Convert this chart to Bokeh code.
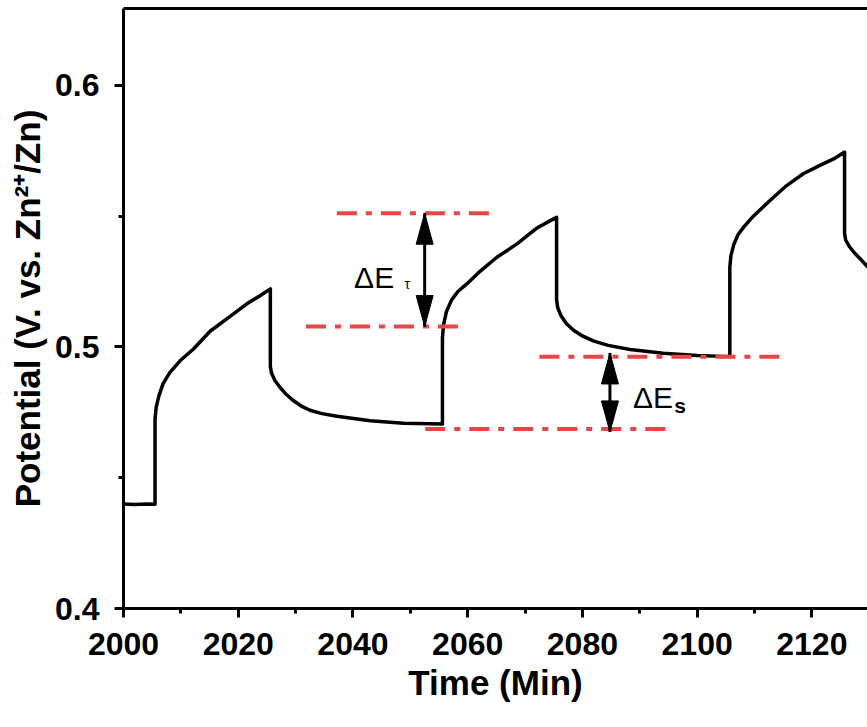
from bokeh.plotting import figure
from bokeh.models import Range1d, FixedTicker, LinearAxis, ColumnDataSource
from bokeh.core.properties import value
from bokeh.embed import file_html
from bokeh.resources import INLINE

# ---- data ----
time_min = [1999.5, 2002.0, 2004.0, 2005.5,
            2005.5, 2005.7, 2006.2, 2006.9, 2008.1, 2009.9, 2012.2, 2015.1, 2018.0, 2021.5, 2023.8, 2025.6,
            2025.6, 2025.8, 2026.4, 2027.3, 2028.4, 2029.6, 2031.0, 2032.5, 2034.6, 2037.2, 2043.0, 2048.8, 2055.6,
            2055.6, 2055.8, 2056.3, 2057.2, 2058.3, 2059.8, 2062.2, 2065.1, 2068.6, 2072.1, 2074.4, 2075.5,
            2075.5, 2075.7, 2076.3, 2077.2, 2078.4, 2080.0, 2082.0, 2084.5, 2088.3, 2094.1, 2100.0, 2105.7,
            2105.7, 2105.9, 2106.4, 2107.1, 2108.1, 2109.8, 2112.7, 2115.6, 2118.5, 2121.4, 2123.8, 2125.7,
            2125.7, 2125.9, 2126.5, 2127.4, 2128.5, 2129.8, 2131.0]
potential = [0.4400, 0.4398, 0.4400, 0.4399,
             0.4725, 0.4770, 0.4815, 0.4860, 0.4903, 0.4948, 0.4992, 0.5060, 0.5107, 0.5165, 0.5196, 0.5222,
             0.4925, 0.4900, 0.4872, 0.4845, 0.4818, 0.4795, 0.4774, 0.4758, 0.4745, 0.4735, 0.4718, 0.4708, 0.4705,
             0.5035, 0.5085, 0.5135, 0.5180, 0.5212, 0.5240, 0.5290, 0.5343, 0.5394, 0.5455, 0.5483, 0.5496,
             0.5180, 0.5150, 0.5118, 0.5090, 0.5065, 0.5042, 0.5022, 0.5006, 0.4990, 0.4976, 0.4967, 0.4963,
             0.5305, 0.5350, 0.5392, 0.5428, 0.5458, 0.5500, 0.5560, 0.5617, 0.5662, 0.5694, 0.5719, 0.5745,
             0.5435, 0.5408, 0.5385, 0.5360, 0.5335, 0.5305, 0.5282]

x_ticks = [2000, 2020, 2040, 2060, 2080, 2100, 2120]
x_minor = [2010, 2030, 2050, 2070, 2090, 2110, 2130]
y_ticks = [0.4, 0.5, 0.6]
y_minor = [0.45, 0.55]

# reference (dash-dot) lines
ref_x0 = [2037.2, 2031.8, 2072.5, 2052.6]
ref_x1 = [2064.5, 2059.2, 2115.0, 2094.7]
ref_y = [0.5511, 0.5078, 0.4963, 0.4686]

# double arrows: x, top, bottom
arrow_x = [2052.5, 2084.8]
arrow_top = [0.5511, 0.4977]
arrow_bot = [0.5078, 0.4675]

# annotation texts
main_text = ["\u0394E", "\u0394E"]
main_x = [2040.2, 2088.8]
main_y = [0.5266, 0.4807]
sub_tau_x, sub_tau_y = [2049.0], [0.5240]
sub_s_x, sub_s_y = [2096.0], [0.4775]

# ---- figure ----
X0, X1 = 2000, 2129.7
Y0, Y1 = 0.4, 0.6294
W, H = 867, 727
BL, BR, BT, BB = 123, 0, 8, 119

p = figure(width=W, height=H, output_backend="svg", toolbar_location=None,
           x_range=Range1d(X0, X1), y_range=Range1d(Y0, Y1),
           min_border_left=BL, min_border_right=BR, min_border_top=BT, min_border_bottom=BB,
           outline_line_color=None, background_fill_color="white", border_fill_color="white")
p.xgrid.visible = False
p.ygrid.visible = False

FONT = "Liberation Sans"

for ax in (p.xaxis[0], p.yaxis[0]):
    ax.axis_line_width = 3
    ax.axis_line_color = "black"
    ax.major_tick_line_color = "black"
    ax.minor_tick_line_color = "black"
    ax.major_tick_line_width = 3
    ax.minor_tick_line_width = 3
    ax.major_tick_in = 1
    ax.minor_tick_in = 0
    ax.major_tick_out = 9
    ax.minor_tick_out = 5
    ax.major_label_text_font = FONT
    ax.major_label_text_font_style = "bold"
    ax.major_label_text_font_size = "32px"
    ax.major_label_text_color = "black"
    ax.axis_label_text_font = FONT
    ax.axis_label_text_font_style = "bold"
    ax.axis_label_text_font_size = "35px"
    ax.axis_label_text_color = "black"

p.xaxis[0].ticker = FixedTicker(ticks=x_ticks, minor_ticks=x_minor)
p.yaxis[0].ticker = FixedTicker(ticks=y_ticks, minor_ticks=y_minor)
p.xaxis[0].axis_label = "Time (Min)"
p.yaxis[0].axis_label = "Potential (V. vs. Zn\u00b2\u207a/Zn)"
p.xaxis[0].major_label_standoff = 15
p.xaxis[0].axis_label_standoff = 5
p.yaxis[0].major_label_standoff = 15
p.yaxis[0].axis_label_standoff = 5

top_axis = LinearAxis(ticker=FixedTicker(ticks=[]), axis_line_width=3, axis_line_color="black",
                      major_tick_out=0, major_tick_in=0, minor_tick_out=0, minor_tick_in=0,
                      major_label_standoff=0, axis_label_standoff=0,
                      major_label_text_font_size="0px")
p.add_layout(top_axis, "above")

# main curve
src = ColumnDataSource(dict(t=time_min, v=potential))
p.line("t", "v", source=src, line_color="black", line_width=3.5, line_join="round")

# red dash-dot reference lines
RED = "#E84545"
p.segment(x0=ref_x0, x1=ref_x1, y0=ref_y, y1=ref_y, line_color=RED, line_width=4,
          line_dash="20 9 6 9")

# double arrows
px_per_x = (W - BL - BR) / (X1 - X0)
px_per_y = (H - BT - BB) / (Y1 - Y0)
head_len = 31 / px_per_y
head_half = 8.5 / px_per_x
p.segment(x0=arrow_x, x1=arrow_x, y0=arrow_top, y1=arrow_bot, line_color="black", line_width=3)
xs, ys = [], []
for ax_, yt, yb in zip(arrow_x, arrow_top, arrow_bot):
    xs.append([ax_, ax_ - head_half, ax_ + head_half])
    ys.append([yt, yt - head_len, yt - head_len])
    xs.append([ax_, ax_ - head_half, ax_ + head_half])
    ys.append([yb, yb + head_len, yb + head_len])
p.patches(xs, ys, fill_color="black", line_color="black", line_width=1)

# labels
p.text(x=main_x, y=main_y, text=main_text, text_font=value(FONT), text_font_size="30px",
       text_baseline="alphabetic", text_align="left", text_color="black")
p.text(x=sub_tau_x, y=sub_tau_y, text=["\u03c4"], text_font=value(FONT), text_font_size="14px",
       text_baseline="alphabetic", text_align="left", text_color="black")
p.text(x=sub_s_x, y=sub_s_y, text=["s"], text_font=value(FONT), text_font_size="21px",
       text_font_style="bold", text_baseline="alphabetic", text_align="left", text_color="black")

open("out.html", "w").write(file_html(p, INLINE))
